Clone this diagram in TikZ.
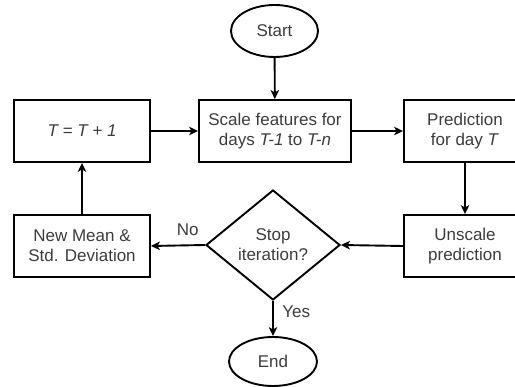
\documentclass[tikz,border=0pt]{standalone}
\usepackage{fontspec}
\setmainfont{Liberation Sans}
\usetikzlibrary{shapes.geometric,arrows.meta}
\definecolor{txt}{HTML}{3C3C3C}
\tikzset{
  every node/.style={font=\fontsize{17}{20}\selectfont, text=txt, align=center},
  boxnode/.style={draw=black, line width=1.9pt, rectangle, minimum height=62pt, inner sep=0pt},
  termnode/.style={draw=black, line width=1.9pt, ellipse, inner sep=0pt},
  decnode/.style={draw=black, line width=1.9pt, diamond, inner sep=0pt, minimum width=134pt, minimum height=110pt},
  flow/.style={draw=black, line width=1.9pt, -{Stealth[length=9pt,width=8.5pt,inset=2.5pt]}},
  lbl/.style={font=\fontsize{17}{20}\selectfont, text=txt}
}
\begin{document}
\begin{tikzpicture}[x=1pt,y=-1pt]
\clip (0,0) rectangle (515,387);
\node[termnode, minimum width=87pt, minimum height=52pt] (start) at (274.5,31) {Start};
\node[boxnode, minimum width=152pt] (scale) at (275,131) {Scale features for\\days \textit{T-1} to \textit{T-n}};
\node[boxnode, minimum width=136pt] (inc) at (82,131) {\textit{T = T + 1}};
\node[boxnode, minimum width=122pt] (pred) at (465,131) {Prediction\\for day \textit{T}};
\node[boxnode, minimum width=122pt] (unscale) at (465,246) {Unscale\\prediction};
\node[boxnode, minimum width=136pt] (newmean) at (82,246) {New Mean \&\\Std. Deviation};
\node[decnode] (stop) at (273,245) {Stop\\iteration?};
\node[termnode, minimum width=88pt, minimum height=49pt] (end) at (273,361.5) {End};
\draw[flow] (start) -- (scale);
\draw[flow] (inc) -- (scale);
\draw[flow] (scale) -- (pred);
\draw[flow] (pred) -- (unscale);
\draw[flow] (unscale.west) -- (stop.east);
\draw[flow] (stop.west) -- node[lbl, above=5pt, pos=0.32] (nolbl) {No} (newmean.east);
\draw[flow] (stop.south) -- node[lbl, right=5pt, pos=0.3] (yeslbl) {Yes} (end.north);
\draw[flow] (newmean) -- (inc);
\end{tikzpicture}
\end{document}
